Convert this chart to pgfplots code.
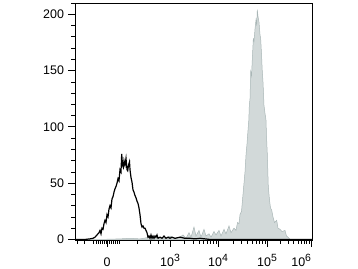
\documentclass[border=0pt]{standalone}
\usepackage{pgfplots}
\pgfplotsset{compat=1.18}
\usepackage{fontspec}
\setmainfont{Liberation Sans}
\definecolor{posfill}{HTML}{D2D9D9}
\definecolor{posedge}{HTML}{A9B6B6}
\newcommand{\sx}[1]{\mbox{10\raisebox{0.75ex}{\fontsize{10.5}{11}\selectfont #1}}}
\begin{document}
\begin{tikzpicture}
\path[use as bounding box] (0bp,0bp) rectangle (358bp,269bp);
\begin{axis}[
  at={(75bp,29bp)}, anchor=south west,
  scale only axis, width=237bp, height=237bp,
  xmin=75, xmax=312, ymin=-0.5, ymax=210,
  axis line style={line width=0.8pt, black},
  tick align=outside,
  xtick pos=bottom, ytick pos=left,
  /pgf/number format/assume math mode=true,
  xtick={107,170,218,267,311},
  xticklabels={\mbox{0},\sx{3},\sx{4},\sx{5},\makebox[0pt][r]{\sx{6}}},
  minor xtick={77,84,93,96,98,100,102,104,106,109,111,113,115,117,119,137,150,158,163,
    184.4,192.9,198.9,203.6,207.4,210.6,213.4,215.8,
    232.8,241.4,247.5,252.3,256.1,259.4,262.2,264.8,
    280.2,288.0,293.5,297.8,301.2,304.2,306.7,309.0},
  ytick={0,50,100,150,200},
  minor ytick={10,20,30,40,60,70,80,90,110,120,130,140,160,170,180,190,210},
  major tick length=6.5bp, minor tick length=3.5bp,
  every tick/.style={black, line width=0.8pt},
  minor tick style={line width=0.6pt},
  tick label style={font=\fontsize{12.5}{14}\selectfont},
  xticklabel style={anchor=base, yshift=-20bp},
  yticklabel style={xshift=-1bp},
  clip=true,
]
\addplot[fill=posfill, draw=posedge, line width=0.5pt] coordinates {
(75,0) (100,0) (120,0.5) (130,1) (140,0.5) (150,2) (155,1) (160,2) (165,1) (170,3) (175,1) (180,2) (183,4) (186,1) (189,6) (191,2) (194,11) (196,3) (199,8) (201,2) (204,9) (206,3) (209,5) (211,2) (214,7) (216,4) (219,8) (221,3) (224,9) (226,5) (229,12) (231,6) (234,10) (236,8) (237.5,15) (239,14) (240,22) (241.5,25) (243,40) (244,50) (245,60) (246,75) (247,85) (248,97) (248.8,106) (249.3,119) (250,125) (250.7,149) (251.5,145) (252.3,160) (253.3,178) (254,176) (255,187) (256,195) (256.7,190) (257.3,204) (258,198) (259,193) (260,182) (260.7,178) (261.5,165) (262.3,149) (263,140) (264,119) (265,112) (266,106) (266.5,92) (267.3,76) (268.3,47) (269.5,35) (270.5,28) (271.7,26) (273,20) (274.5,15) (276.7,17) (278,10) (280,9) (282,7) (285,8) (286.5,3) (288,2) (290,0) (312,0)
} \closedcycle;
\addplot[black, line width=1.2pt] coordinates {
(75,0) (85,0) (90,0.5) (93,1) (95,2) (97,4) (99,6) (100,8) (101,5) (102,10) (103,9) (104,14) (105,17) (106,15) (107,22) (108,20) (109,27) (110,30) (111,28) (112,36) (113,38) (114,42) (115,45) (116,47) (117,50) (118,54) (119,52) (120,62) (121,60) (121.7,76) (122.5,66) (123.3,64) (124,70) (125,66) (126,72) (127,62) (127.7,61) (128.5,66) (129.5,69) (130,62) (131,55) (132,51) (133,44) (134,42) (135,39) (136,37) (137,34) (138,32) (139,28) (140,22) (141,14) (142,11) (143,12) (144,10) (145,10) (146,8) (147,6) (148,2) (149,3) (150,1) (151,4) (152,1) (153,3) (154,1) (155,3) (156,2) (157,4) (158,1) (160,2) (162,1) (164,3) (166,1) (168,2) (170,1) (172,2) (175,1) (180,2) (185,1) (190,1) (195,0.5) (200,1) (210,0) (312,0)
};
\end{axis}
\end{tikzpicture}
\end{document}
